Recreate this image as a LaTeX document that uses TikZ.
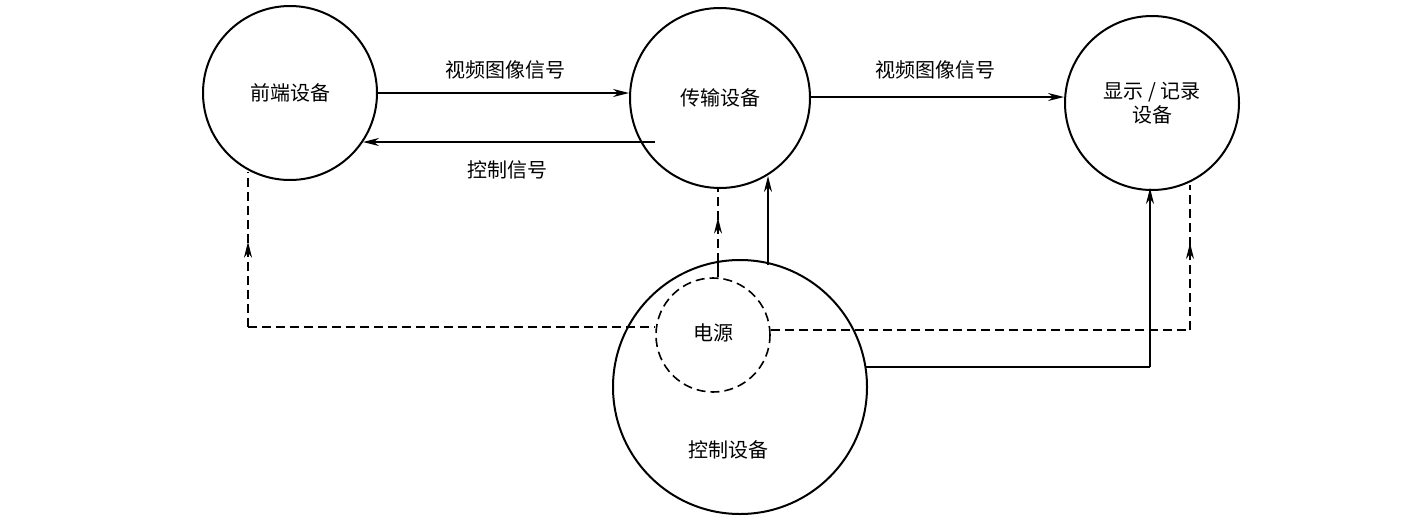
\documentclass[tikz,border=0pt]{standalone}
\usepackage{fontspec}
\setmainfont{Noto Sans CJK SC}
\usetikzlibrary{arrows.meta,decorations.markings,calc}
\begin{document}
\begin{tikzpicture}[x=1pt,y=-1pt,
  circ/.style={circle,draw,line width=2pt,inner sep=0pt},
  lbl/.style={font=\fontsize{20}{24}\selectfont},
  ln/.style={line width=1.6pt},
  dsh/.style={line width=1.6pt,dash pattern=on 9pt off 5pt},
  tip/.style={-{Stealth[length=16pt,width=8pt]}},
  midarr/.style={postaction={decorate},decoration={markings,mark=at position #1 with {\arrow{Stealth[length=16pt,width=8pt]}}}}]
\useasboundingbox (0,0) rectangle (1417,531);
\node[circ,minimum size=174pt] (fe) at (290,93) {};
\node[lbl] at (290,93) {前端设备};
\node[circ,minimum size=180pt] (tr) at (720,98) {};
\node[lbl] at (720,98) {传输设备};
\node[circ,minimum size=174pt] (ds) at (1152,103) {};
\node[lbl,align=center] at (1152,103) {显示 / 记录\\设备};
\node[circ,minimum size=254pt] (ct) at (740,387) {};
\node[lbl] at (728,450) {控制设备};
\node[circle,draw,dsh,minimum size=114pt,inner sep=0pt] (ps) at (713,335) {};
\node[lbl] at (713,333) {电源};
\draw[ln,tip] (fe.east |- 0,93) coordinate (a1) -- (a1 -| tr.west) coordinate (a2);
\node[lbl] at (505,70) {视频图像信号};
\draw[ln,tip] (655,142) coordinate (b1) -- (363,142) coordinate (b2);
\node[lbl] at (507,170) {控制信号};
\draw[ln,tip] (tr.east |- 0,97) coordinate (c1) -- (c1 -| ds.west) coordinate (c2);
\node[lbl] at (935,70) {视频图像信号};
\coordinate (d1) at (248,172);
\coordinate (d2) at (248,327);
\draw[dsh,midarr=0.55] (d2) -- (d1);
\draw[dsh] (d2) -- (ps.west |- d2);
\coordinate (e1) at (1190,330);
\coordinate (e2) at (1190,185);
\draw[dsh] (ps.east |- e1) -- (e1);
\draw[dsh,midarr=0.6] (e1) -- (e2);
\coordinate (f1) at (718,262);
\coordinate (f2) at (718,188);
\draw[ln] (ps.north -| f1) -- (f1);
\draw[dsh,midarr=0.6] (f1) -- (f2);
\draw[ln,tip] (768,265) coordinate (g1) -- (768,176) coordinate (g2);
\coordinate (h1) at (866,367);
\coordinate (h2) at (1150,367);
\draw[ln] (h1) -- (h2);
\draw[ln,tip] (h2) -- (1150,188) coordinate (h3);
\end{tikzpicture}
\end{document}
